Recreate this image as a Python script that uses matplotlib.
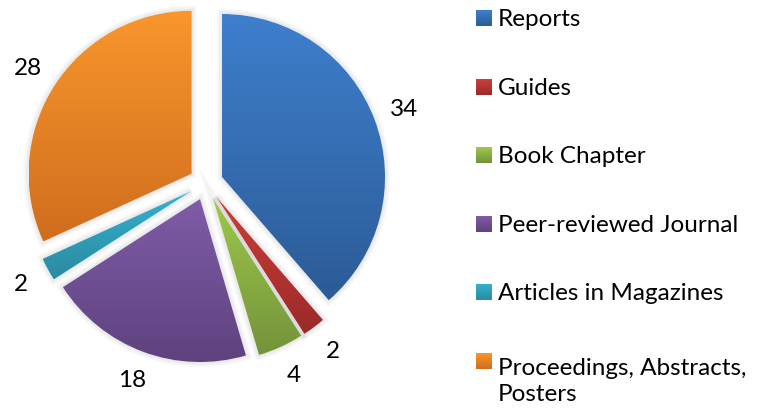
import numpy as np
import matplotlib
matplotlib.use('Agg')
import matplotlib.pyplot as plt
from matplotlib.patches import Wedge

plt.rcParams['font.family'] = ['Lato', 'DejaVu Sans']

categories = ['Reports', 'Guides', 'Book Chapter', 'Peer-reviewed Journal',
              'Articles in Magazines', 'Proceedings, Abstracts,\nPosters']
counts = [34, 2, 4, 18, 2, 28]

# top / bottom colours of each slice gradient
tops = ['#3e7fcd', '#cd3f3b', '#9dc84c', '#7f5ca8', '#36b1ce', '#f9962d']
bots = ['#2c5b96', '#9a2a28', '#74933a', '#5e427e', '#2a8aa1', '#d06d1e']

W, H = 757, 408
fig = plt.figure(figsize=(W/100, H/100), dpi=100)
# pie centre at (206,183) px, radius 163 px
rpx = 163.
half = 200.
ax = fig.add_axes([(206-half)/W, (H-183-half)/H, 2*half/W, 2*half/H])

total = sum(counts)
wedges, texts, autotexts = ax.pie(counts, explode=[0.105]*len(counts), startangle=90,
                                  counterclock=False, radius=1.0,
                                  autopct=lambda p: '%d' % round(p*total/100.),
                                  pctdistance=1.19,
                                  wedgeprops=dict(linewidth=0),
                                  textprops=dict(fontsize=17.5, color='black'))

def grad(c1, c2, n=256):
    a = np.array(matplotlib.colors.to_rgb(c1))
    b = np.array(matplotlib.colors.to_rgb(c2))
    t = np.linspace(0, 1, n)[:, None]
    return (a*(1-t) + b*t)[:, None, :]

for w, c1, c2 in zip(wedges, tops, bots):
    # soft shadow
    for k in range(4):
        sh = Wedge(w.center, w.r, w.theta1, w.theta2, facecolor='none',
                   edgecolor='#000000', linewidth=1.5+2*k, alpha=0.025, zorder=0.5)
        sh.set_transform(ax.transData)
        ax.add_patch(sh)
    ex = w.get_path().get_extents()
    w.set_facecolor('white')
    im = ax.imshow(grad(c1, c2), extent=(ex.x0, ex.x1, ex.y0, ex.y1),
                   aspect='auto', origin='upper', zorder=2, interpolation='bilinear')
    im.set_clip_path(w)

lim = half/rpx
ax.set_xlim(-lim, lim)
ax.set_ylim(-lim, lim)
ax.set_aspect('equal')
ax.axis('off')

# legend
for i, (lab, c1, c2) in enumerate(zip(categories, tops, bots)):
    yc = 18 + 68.6*i
    sq = fig.add_axes([476/W, (H-yc-8)/H, 16/W, 16/H])
    sq.imshow(grad(c1, c2), aspect='auto', extent=(0, 1, 0, 1), origin='upper')
    sq.axis('off')
    nl = lab.count('\n')
    fig.text(498/W, 1-(yc+8+32*nl)/H, lab, fontsize=17.5, va='baseline', ha='left',
             linespacing=1.3)

fig.savefig('out.png', dpi=100)
